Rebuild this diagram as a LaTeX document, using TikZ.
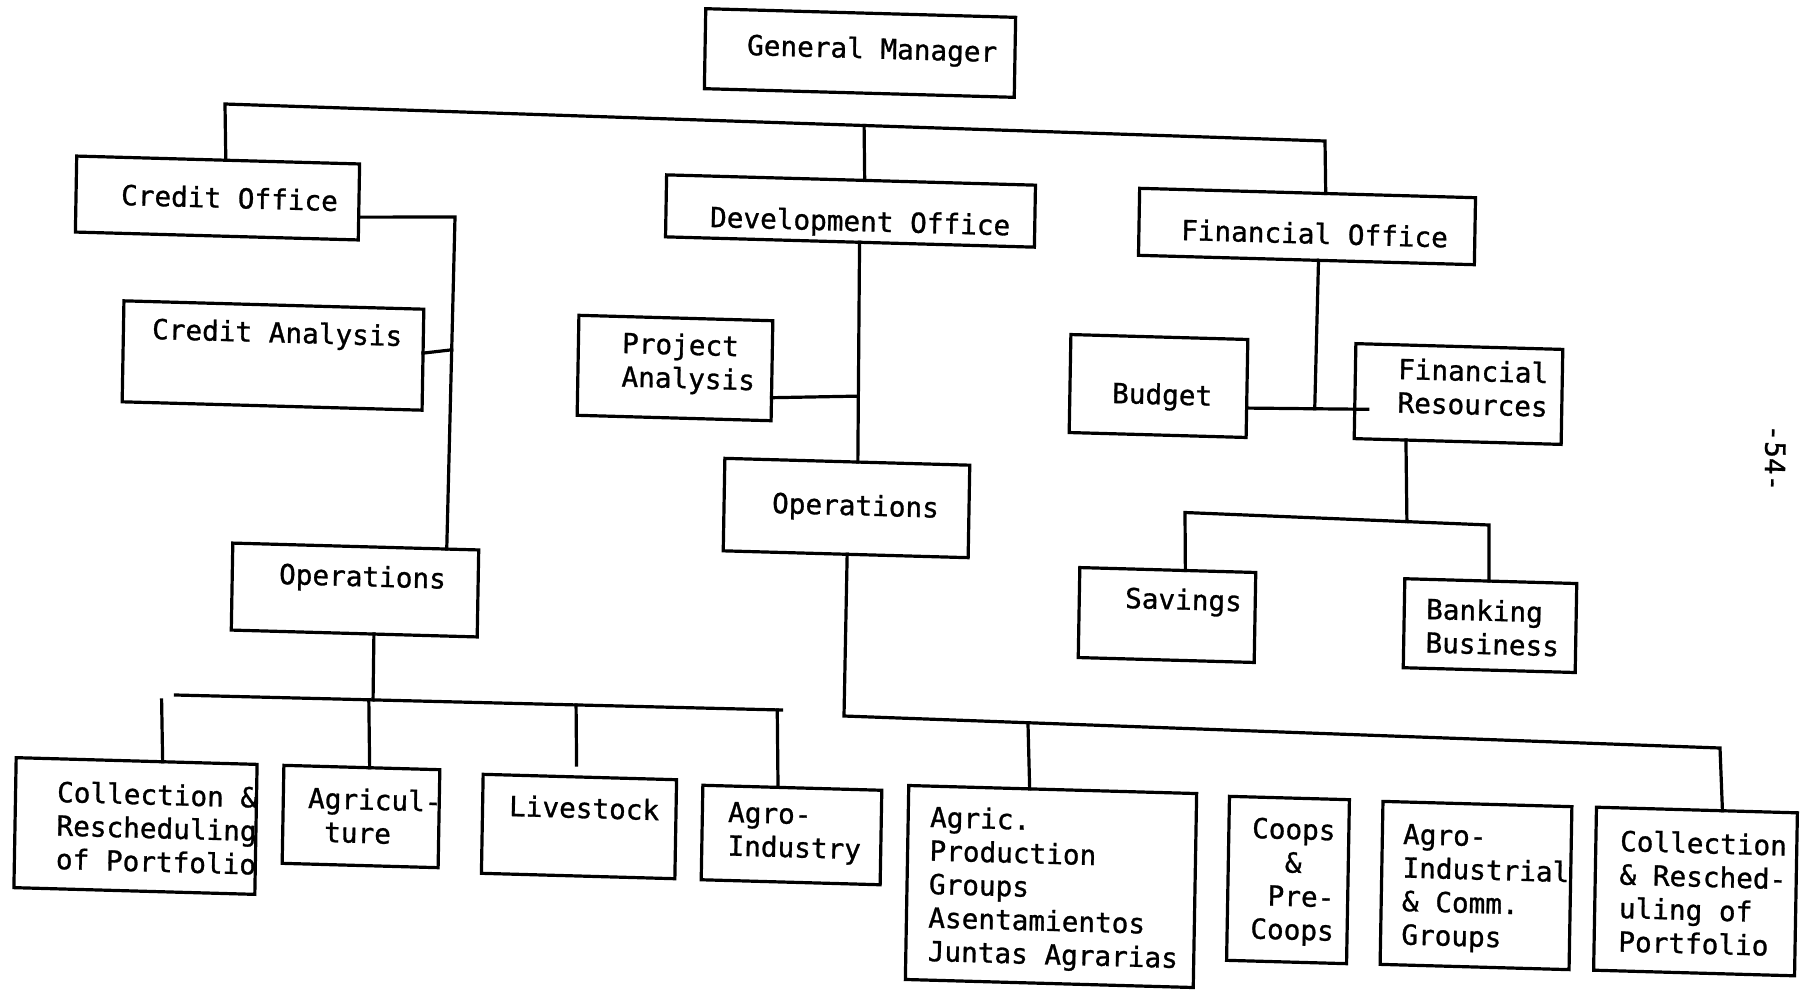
\documentclass[tikz,border=0pt]{standalone}
\usepackage{fontspec}
\newfontfamily\typer[FakeBold=1]{DejaVu Sans Mono}
\usetikzlibrary{calc}
% stacked lines of typed text; the baseline is that of the first line
\newcommand\rows[1]{\vtop{\halign{##\hfil\cr#1\crcr}}}

\begin{document}
\begin{tikzpicture}[x=1pt,y=-1pt,
  skew/.style={cm={0.9996,-0.0279,0.0175,0.9998,(0,0)}},
  unit/.style={draw, line width=3.2pt, inner sep=0pt, outer sep=0pt, skew},
  lbl/.style={inner sep=0pt, outer sep=0pt, anchor=base west, skew,
              font=\typer\fontsize{27.7}{33.5}\selectfont},
  wire/.style={line width=3.2pt, line cap=rect}]

\path[fill=white, use as bounding box] (0,0) rectangle (1810,989);

% ---------- boxes ----------
\node[unit, minimum width=310pt, minimum height=80pt]   (gm)   at (860,53)      {};
\node[unit, minimum width=283pt, minimum height=76pt]   (co)   at (217.5,198)   {};
\node[unit, minimum width=300pt, minimum height=101pt]  (ca)   at (273,355.5)   {};
\node[unit, minimum width=246pt, minimum height=87pt]   (opsL) at (355,590)     {};
\node[unit, minimum width=369pt, minimum height=62pt]   (dev)  at (850.5,211)   {};
\node[unit, minimum width=194pt, minimum height=100pt]  (pa)   at (675,368)     {};
\node[unit, minimum width=245pt, minimum height=92.5pt] (opsM) at (846.5,508)   {};
\node[unit, minimum width=336pt, minimum height=67pt]   (fo)   at (1307,226.5)  {};
\node[unit, minimum width=177pt, minimum height=98pt]   (bud)  at (1158.5,386)  {};
\node[unit, minimum width=207pt, minimum height=95pt]   (fr)   at (1458.5,394)  {};
\node[unit, minimum width=176pt, minimum height=90pt]   (sav)  at (1167,615)    {};
\node[unit, minimum width=172pt, minimum height=89pt]   (bank) at (1490,625.6)  {};
\node[unit, minimum width=241pt, minimum height=130pt]  (colL) at (135.5,826)   {};
\node[unit, minimum width=156pt, minimum height=98pt]   (agr)  at (361,816.5)   {};
\node[unit, minimum width=193.5pt, minimum height=99pt] (live) at (579,826.5)   {};
\node[unit, minimum width=179pt, minimum height=94.5pt] (agi)  at (791.5,835)   {};
\node[unit, minimum width=288pt, minimum height=194pt]  (apg)  at (1051,886.5)  {};
\node[unit, minimum width=120pt, minimum height=164pt]  (coop) at (1288,880)    {};
\node[unit, minimum width=189pt, minimum height=163pt]  (aic)  at (1476,885.5)  {};
\node[unit, minimum width=201pt, minimum height=163pt]  (colR) at (1695.5,891.5) {};

% ---------- texts ----------
\node[lbl] (gm-t)   at (747,55)   {General Manager};
\node[lbl] (co-t)   at (121,205)  {Credit Office};
\node[lbl] (ca-t)   at (152,339)  {Credit Analysis};
\node[lbl] (opsL-t) at (279,584)  {Operations};
\node[lbl] (dev-t)  at (710,227)  {Development Office};
\node[lbl] (pa-t)   at (622,353)  {\rows{Project\cr Analysis}};
\node[lbl] (opsM-t) at (772,513)  {Operations};
\node[lbl] (fo-t)   at (1181,240) {Financial Office};
\node[lbl] (bud-t)  at (1112,403) {Budget};
\node[lbl] (fr-t)   at (1398,379) {\rows{Financial\cr Resources}};
\node[lbl] (sav-t)  at (1125,608) {Savings};
\node[lbl] (bank-t) at (1426,619) {\rows{Banking\cr Business}};
\node[lbl] (colL-t) at (57,802)   {\rows{Collection \&\cr Rescheduling\cr of Portfolio}};
\node[lbl] (agr-t)  at (308,808)  {\rows{Agricul-\cr \hphantom{A}ture}};
\node[lbl] (live-t) at (509,816)  {Livestock};
\node[lbl] (agi-t)  at (728,822)  {\rows{Agro-\cr Industry}};
\node[lbl] (apg-t)  at (930,827)  {\rows{Agric.\cr Production\cr Groups\cr Asentamientos\cr Juntas Agrarias}};
\node[lbl] (coop-t) at (1252,838) {\rows{Coops\cr \hphantom{Co}\&\cr \hphantom{C}Pre-\cr Coops}};
\node[lbl] (aic-t)  at (1403,844) {\rows{Agro-\cr Industrial\cr \& Comm.\cr Groups}};
\node[lbl] (colR-t) at (1620,851) {\rows{Collection\cr \& Resched-\cr uling of\cr Portfolio}};
\node[lbl, anchor=center, rotate=-90] (page) at (1775,458) {-54-};

% ---------- top bus under the General Manager ----------
\coordinate (tbL) at (225,104);
\coordinate (tbR) at (1325,141);
\draw[wire] ($(co.north west)!0.527!(co.north east)$) -- (tbL) -- (tbR)
            -- ($(fo.north west)!0.554!(fo.north east)$);
\draw[wire] ($(tbL)!0.581!(tbR)$) -- ($(dev.north west)!0.537!(dev.north east)$);

% ---------- credit office branch ----------
\coordinate (cbend) at (455,217);
\coordinate (oplT) at ($(opsL.north west)!0.87!(opsL.north east)$);
\draw[wire] ($(co.north east)!0.7!(co.south east)$) -- (cbend) -- (oplT);
\draw[wire] ($(ca.north east)!0.435!(ca.south east)$) -- ($(cbend)!0.4!(oplT)$);

\coordinate (lbL) at (175.5,695);
\coordinate (lbR) at (781.5,710);
\draw[wire] (lbL) -- (lbR);
\draw[wire] ($(opsL.south west)!0.58!(opsL.south east)$) -- ($(lbL)!0.326!(lbR)$);
\draw[wire] ($(lbL)!0.319!(lbR)$) -- ($(agr.north west)!0.55!(agr.north east)$);
\coordinate (liveStub) at ($(live.north west)!0.483!(live.north east) + (0,-12)$);
\draw[wire] ($(lbL)!0.661!(lbR)$) -- (liveStub);
\draw[wire] ($(lbL)!0.993!(lbR)$) -- ($(agi.north west)!0.42!(agi.north east)$);
\coordinate (clTop) at (161.6,700);
\draw[wire] (clTop) -- ($(colL.north west)!0.608!(colL.north east)$);

% ---------- development office branch ----------
\coordinate (devS) at ($(dev.south west)!0.526!(dev.south east)$);
\coordinate (opmN) at ($(opsM.north west)!0.543!(opsM.north east)$);
\draw[wire] (devS) -- (opmN);
\draw[wire] ($(pa.north east)!0.77!(pa.south east)$) -- ($(devS)!0.7!(opmN)$);

\coordinate (rbL) at (844,716);
\coordinate (rbR) at (1720,748);
\draw[wire] ($(opsM.south west)!0.506!(opsM.south east)$) -- (rbL) -- (rbR)
            -- ($(colR.north west)!0.627!(colR.north east)$);
\draw[wire] ($(rbL)!0.21!(rbR)$) -- ($(apg.north west)!0.42!(apg.north east)$);

% ---------- financial office branch ----------
\coordinate (budE) at ($(bud.north east)!0.7!(bud.south east)$);
\coordinate (frW) at ($(fr.north west)!0.69!(fr.south west)$);
\draw[wire] (budE) -- ($(budE)!1.12!(frW)$);
\draw[wire] ($(fo.south west)!0.536!(fo.south east)$) -- ($(budE)!0.63!(frW)$);

\coordinate (sbL) at (1185,512.5);
\coordinate (sbR) at (1489,525);
\draw[wire] ($(sav.north west)!0.60!(sav.north east)$) -- (sbL) -- (sbR)
            -- ($(bank.north west)!0.49!(bank.north east)$);
\draw[wire] ($(fr.south west)!0.25!(fr.south east)$) -- ($(sbL)!0.73!(sbR)$);

\end{tikzpicture}
\end{document}
